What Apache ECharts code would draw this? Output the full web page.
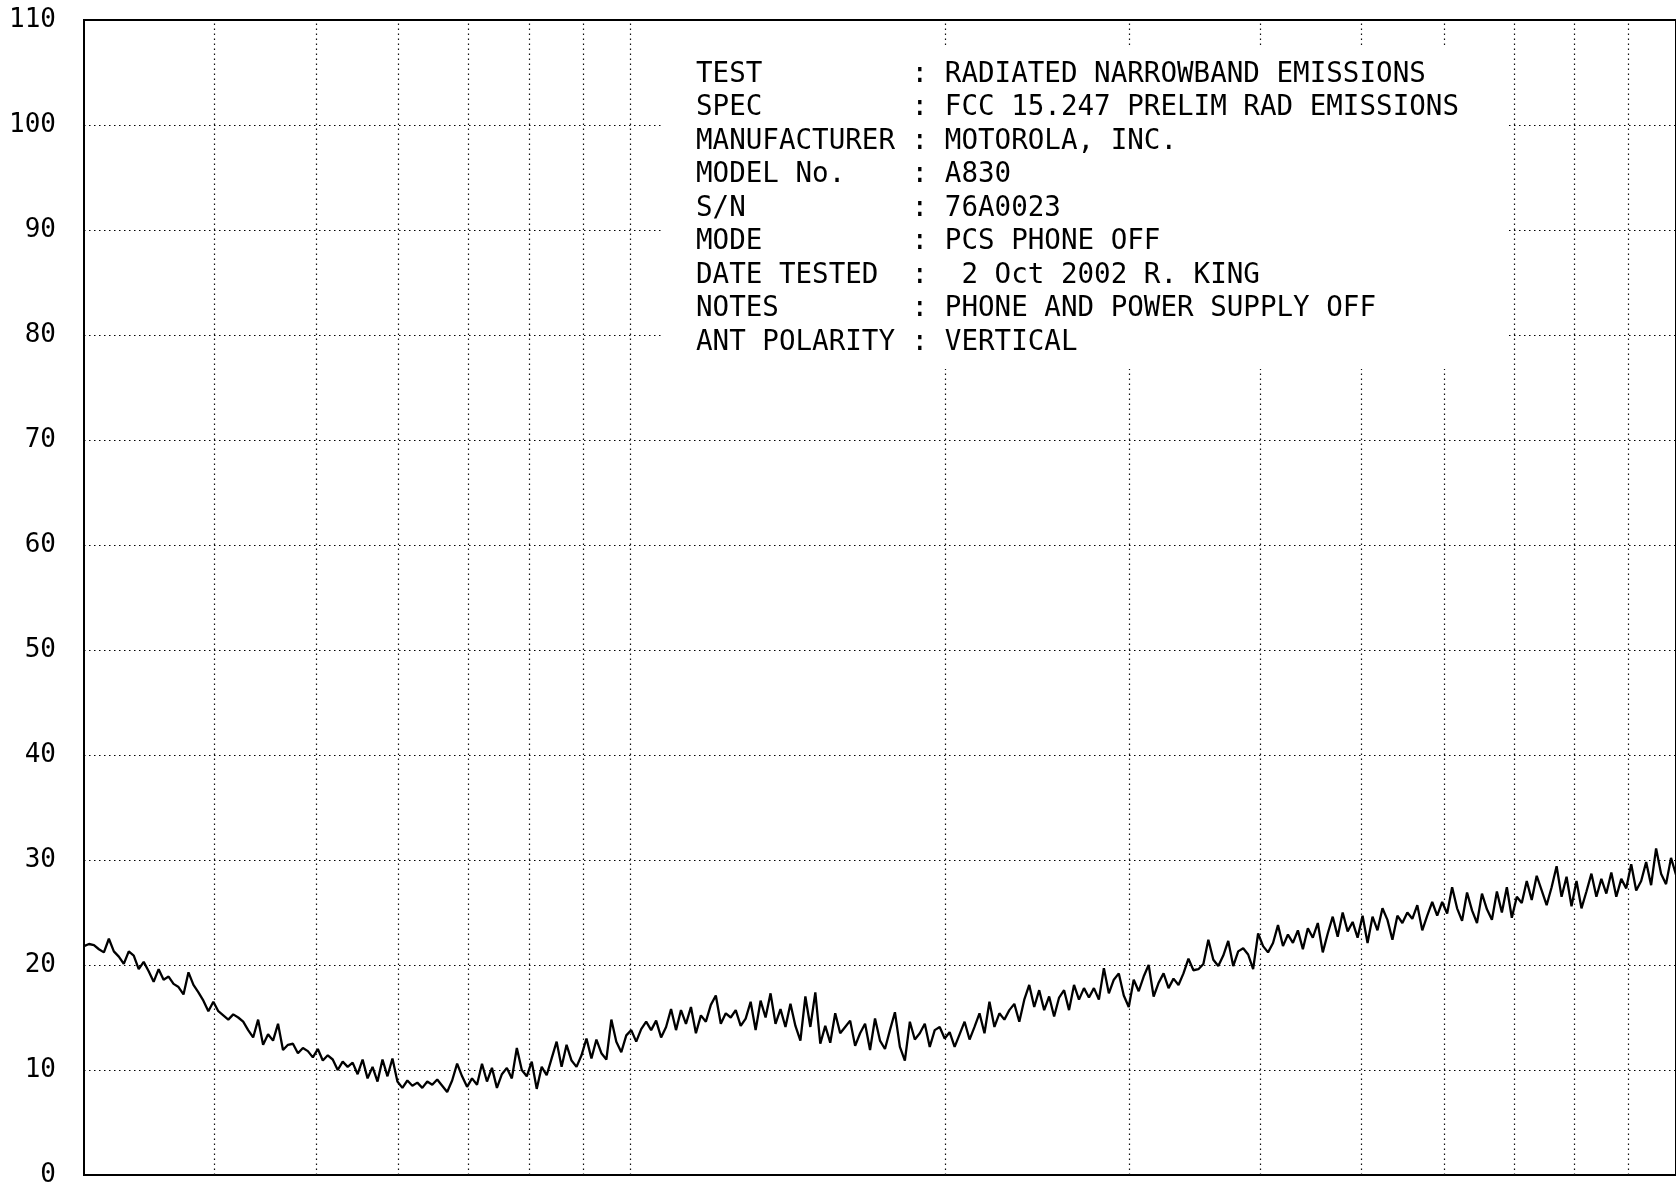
<!DOCTYPE html>
<html>
<head>
<meta charset="utf-8">
<script src="https://cdn.jsdelivr.net/npm/echarts@6/dist/echarts.min.js"></script>
<style>
  html, body { margin: 0; padding: 0; background: #fff; }
  #chart { width: 1676px; height: 1188px; }
</style>
</head>
<body>
<div id="chart"></div>
<script>
// Sweep: 30 MHz to 1000 MHz, log-spaced analyzer points
const F_START = 30;
const F_STOP = 1000;

const levels = [
  21.8, 22.0, 21.9, 21.5, 21.2, 22.5, 21.3, 20.8, 20.1, 21.3,
  20.9, 19.6, 20.3, 19.4, 18.4, 19.6, 18.6, 18.9, 18.2, 17.9,
  17.2, 19.3, 18.1, 17.4, 16.6, 15.6, 16.5, 15.6, 15.2, 14.8,
  15.3, 15.0, 14.6, 13.8, 13.1, 14.8, 12.4, 13.4, 12.8, 14.4,
  11.9, 12.4, 12.5, 11.6, 12.1, 11.8, 11.2, 12.0, 10.9, 11.4,
  11.0, 10.0, 10.8, 10.3, 10.7, 9.6,
  11.0, 9.2, 10.3, 8.9, 11.0, 9.4, 11.1, 8.9, 8.3, 9.0,
  8.5, 8.8, 8.3, 8.9, 8.6, 9.1, 8.5, 7.9, 9.0, 10.6,
  9.4, 8.4, 9.2, 8.6, 10.6, 8.9, 10.2, 8.3, 9.6, 10.2,
  9.2, 12.1, 10.0, 9.4, 10.8, 8.2, 10.3, 9.5, 11.1, 12.7,
  10.3, 12.4, 10.9, 10.3, 11.4, 13.0, 11.1, 12.9, 11.6, 11.0,
  14.8, 12.7, 11.7, 13.3, 13.8, 12.7,
  13.9, 14.6, 13.8, 14.7, 13.1, 14.1, 15.8, 13.8, 15.7, 14.4,
  16.0, 13.5, 15.2, 14.6, 16.2, 17.1, 14.4, 15.4, 15.0, 15.7,
  14.2, 14.9, 16.5, 13.8, 16.6, 15.0, 17.3, 14.4, 15.8, 14.1,
  16.3, 14.2, 12.8, 17.0, 14.1, 17.4, 12.5, 14.2, 12.6, 15.4,
  13.5, 14.1, 14.7, 12.3, 13.5, 14.4, 11.9, 14.9, 12.8, 12.0,
  13.8, 15.5, 12.2, 10.9, 14.6, 12.9,
  13.5, 14.4, 12.2, 13.8, 14.1, 13.0, 13.6, 12.2, 13.4, 14.6,
  12.9, 14.1, 15.4, 13.5, 16.5, 14.1, 15.4, 14.8, 15.7, 16.3,
  14.6, 16.7, 18.1, 16.0, 17.6, 15.7, 17.0, 15.1, 16.9, 17.6,
  15.7, 18.1, 16.7, 17.8, 16.9, 17.8, 16.7, 19.7, 17.3, 18.6,
  19.2, 17.1, 16.0, 18.6, 17.5, 18.9, 20.0, 17.0, 18.3, 19.2,
  17.8, 18.7, 18.1, 19.2, 20.6, 19.5,
  19.6, 20.1, 22.4, 20.5, 19.9, 20.9, 22.3, 19.9, 21.3, 21.6,
  21.0, 19.6, 23.0, 21.8, 21.2, 22.1, 23.8, 21.8, 22.9, 22.1,
  23.3, 21.5, 23.5, 22.6, 24.0, 21.2, 23.0, 24.6, 22.7, 25.0,
  23.2, 24.1, 22.6, 24.7, 22.1, 24.6, 23.3, 25.4, 24.3, 22.4,
  24.7, 24.0, 25.0, 24.4, 25.7, 23.3, 24.7, 26.0, 24.7, 26.0,
  24.9, 27.4, 25.4, 24.2, 26.9, 25.2,
  24.0, 26.8, 25.3, 24.3, 27.0, 25.0, 27.4, 24.5, 26.5, 25.9,
  28.0, 26.2, 28.5, 27.1, 25.7, 27.4, 29.4, 26.5, 28.4, 25.6,
  28.0, 25.4, 27.0, 28.7, 26.5, 28.2, 26.8, 28.8, 26.5, 28.2,
  27.3, 29.6, 27.1, 28.0, 29.8, 27.6, 31.1, 28.7, 27.7, 30.2,
  28.6
];

// Vertical (frequency) grid lines, MHz
const gridFreqs = [40, 50, 60, 70, 80, 90, 100, 200, 300, 400, 500, 600, 700, 800, 900];

// Y axis range / step
const Y_MIN = 0;
const Y_MAX = 110;
const Y_STEP = 10;

// Header text block
const headerLines = [
  'TEST         : RADIATED NARROWBAND EMISSIONS',
  'SPEC         : FCC 15.247 PRELIM RAD EMISSIONS',
  'MANUFACTURER : MOTOROLA, INC.',
  'MODEL No.    : A830',
  'S/N          : 76A0023',
  'MODE         : PCS PHONE OFF',
  'DATE TESTED  :  2 Oct 2002 R. KING',
  'NOTES        : PHONE AND POWER SUPPLY OFF',
  'ANT POLARITY : VERTICAL'
];

const N = levels.length;
const seriesData = levels.map((v, i) => [F_START * Math.pow(F_STOP / F_START, i / (N - 1)), v]);

const chart = echarts.init(document.getElementById('chart'), null, { renderer: 'canvas' });

const textEls = headerLines.map((t, i) => ({
  type: 'text',
  x: 696,
  y: 74 + 33.5 * i,
  scaleX: 0.95,
  z: 101,
  silent: true,
  style: {
    text: t,
    fontSize: 29,
    fontFamily: '"DejaVu Sans Mono", monospace',
    fill: '#000',
    verticalAlign: 'middle',
    textVerticalAlign: 'middle'
  }
}));

const option = {
  animation: false,
  backgroundColor: '#fff',
  grid: {
    left: 84,
    right: -8,
    top: 20,
    bottom: 11,
    show: true,
    borderColor: '#000',
    borderWidth: 2,
    backgroundColor: 'transparent'
  },
  xAxis: {
    type: 'log',
    logBase: 10,
    min: F_START,
    max: F_STOP,
    axisLine: { show: false },
    axisTick: { show: false },
    axisLabel: { show: false },
    splitLine: { show: false }
  },
  yAxis: {
    type: 'value',
    min: Y_MIN,
    max: Y_MAX,
    interval: Y_STEP,
    axisLine: { show: false },
    axisTick: { show: false },
    axisLabel: {
      color: '#000',
      fontSize: 26,
      fontFamily: '"DejaVu Sans Mono", monospace',
      margin: 28
    },
    splitLine: {
      show: true,
      lineStyle: { color: '#000', width: 1.2, type: [1.5, 3.5] }
    }
  },
  series: [{
    type: 'line',
    data: seriesData,
    showSymbol: false,
    symbol: 'none',
    lineStyle: { color: '#000', width: 2.3 },
    z: 5,
    markLine: {
      silent: true,
      symbol: ['none', 'none'],
      label: { show: false },
      lineStyle: { color: '#111', width: 1.2, type: [1.5, 3.5] },
      data: gridFreqs.map(f => ({ xAxis: f }))
    }
  }],
  graphic: [
    {
      type: 'rect',
      z: 100,
      silent: true,
      shape: { x: 663, y: 47, width: 844, height: 322 },
      style: { fill: '#fff' }
    }
  ].concat(textEls)
};

chart.setOption(option);
</script>
</body>
</html>
